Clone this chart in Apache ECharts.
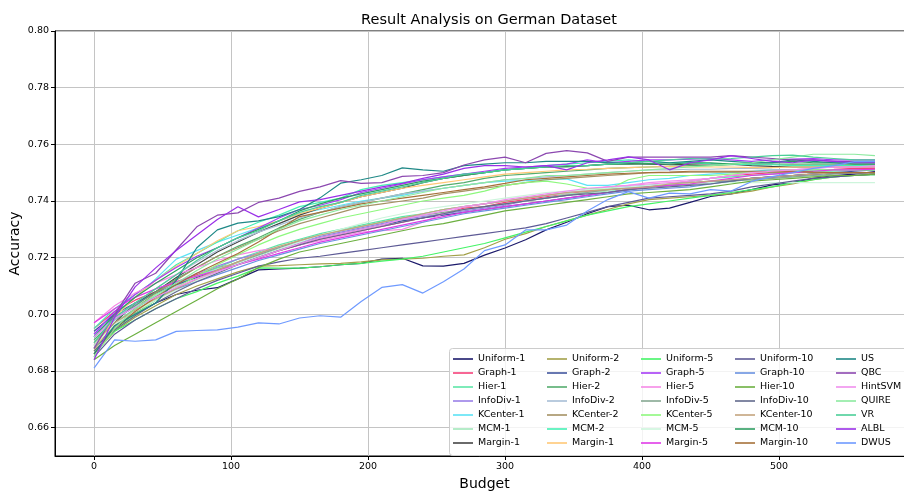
<!DOCTYPE html>
<html>
<head>
<meta charset="utf-8">
<script src="https://cdn.jsdelivr.net/npm/echarts@6/dist/echarts.min.js"></script>
<style>
  html, body { margin: 0; padding: 0; background: #fff; }
  #main { width: 904px; height: 491px; }
</style>
</head>
<body>
<div id="main"></div>
<script type="text/javascript">
// budget steps (x)
var budgets = [0,15,30,45,60,75,90,105,120,135,150,165,180,195,210,225,240,255,270,285,300,315,330,345,360,375,390,405,420,435,450,465,480,495,510,525,540,555,570];

// accuracy per method, one value per budget
var uniform1 = [0.688,0.695,0.700,0.704,0.707,0.7085,0.7094,0.7125,0.7157,0.716,0.7163,0.7168,0.7175,0.718,0.7195,0.7198,0.7171,0.717,0.718,0.7209,0.7234,0.7263,0.7298,0.7325,0.7355,0.738,0.7385,0.7369,0.7375,0.7395,0.7416,0.7425,0.744,0.7457,0.7465,0.748,0.749,0.7495,0.7504];
var graph1   = [0.695,0.701,0.705,0.708,0.7115,0.714,0.7165,0.718,0.720,0.7225,0.7245,0.7265,0.728,0.7295,0.731,0.7325,0.734,0.7355,0.7375,0.738,0.7395,0.7405,0.7415,0.7425,0.7435,0.744,0.7445,0.745,0.746,0.747,0.748,0.749,0.7495,0.750,0.7505,0.751,0.7512,0.7515,0.7515];
var hier1    = [0.690,0.697,0.702,0.7065,0.7105,0.7135,0.7165,0.7195,0.722,0.7245,0.7265,0.7285,0.730,0.7315,0.733,0.7345,0.7355,0.737,0.738,0.739,0.740,0.741,0.742,0.743,0.744,0.7445,0.745,0.7455,0.746,0.747,0.748,0.7485,0.749,0.7495,0.750,0.7505,0.7505,0.751,0.751];
var infoDiv1 = [0.693,0.699,0.7035,0.7075,0.711,0.7145,0.717,0.7195,0.7215,0.7235,0.7255,0.7275,0.729,0.7305,0.732,0.7335,0.7345,0.7355,0.7365,0.7375,0.7385,0.740,0.741,0.742,0.743,0.744,0.745,0.7455,0.746,0.7465,0.747,0.7475,0.748,0.7485,0.749,0.7495,0.7498,0.750,0.750];
var kCenter1 = [0.692,0.700,0.706,0.7125,0.7195,0.7225,0.7255,0.728,0.7305,0.733,0.7355,0.737,0.7385,0.740,0.741,0.742,0.7435,0.7445,0.7455,0.7465,0.747,0.7472,0.7475,0.7478,0.7455,0.7455,0.7465,0.7475,0.748,0.749,0.7495,0.750,0.7505,0.751,0.751,0.751,0.751,0.751,0.751];
var mcm1     = [0.691,0.698,0.703,0.7065,0.710,0.7135,0.716,0.7185,0.721,0.7235,0.726,0.728,0.7295,0.731,0.7325,0.734,0.7355,0.737,0.738,0.739,0.740,0.741,0.742,0.7425,0.743,0.7435,0.744,0.745,0.7455,0.746,0.7465,0.747,0.7475,0.748,0.7485,0.749,0.749,0.749,0.749];
var margin1  = [0.689,0.697,0.704,0.708,0.713,0.7175,0.722,0.7255,0.729,0.732,0.735,0.7375,0.7395,0.7415,0.743,0.7445,0.7465,0.748,0.749,0.750,0.751,0.7515,0.752,0.7522,0.7525,0.753,0.7532,0.753,0.7528,0.753,0.7532,0.753,0.7525,0.7522,0.752,0.752,0.752,0.752,0.752];
var uniform2 = [0.686,0.694,0.699,0.703,0.707,0.710,0.7125,0.715,0.717,0.7172,0.7175,0.7178,0.718,0.7185,0.7192,0.7195,0.7198,0.7205,0.721,0.7235,0.7265,0.7285,0.731,0.733,0.735,0.737,0.739,0.7405,0.741,0.7415,0.742,0.7425,0.7435,0.745,0.746,0.7475,0.7485,0.749,0.7495];
var graph2   = [0.694,0.700,0.704,0.7075,0.7105,0.713,0.7155,0.718,0.7205,0.723,0.725,0.727,0.7285,0.730,0.7315,0.733,0.734,0.735,0.736,0.737,0.738,0.739,0.740,0.741,0.742,0.743,0.744,0.745,0.7455,0.746,0.7465,0.747,0.748,0.7485,0.749,0.7495,0.750,0.7505,0.751];
var hier2    = [0.691,0.698,0.703,0.708,0.7125,0.7165,0.7205,0.724,0.727,0.7305,0.7335,0.736,0.738,0.7395,0.741,0.7425,0.744,0.7455,0.7465,0.748,0.749,0.7495,0.750,0.7505,0.751,0.7515,0.7518,0.752,0.7522,0.7525,0.7525,0.7528,0.753,0.753,0.753,0.753,0.753,0.753,0.753];
var infoDiv2 = [0.690,0.698,0.704,0.709,0.714,0.7185,0.7225,0.726,0.729,0.7315,0.734,0.736,0.738,0.7395,0.741,0.7425,0.7435,0.7445,0.7455,0.7465,0.7475,0.748,0.7485,0.749,0.7495,0.750,0.7505,0.751,0.751,0.7512,0.7512,0.7515,0.7515,0.7512,0.751,0.751,0.751,0.751,0.751];
var kCenter2 = [0.688,0.696,0.702,0.7075,0.712,0.7165,0.7205,0.7235,0.7265,0.7295,0.732,0.734,0.736,0.738,0.739,0.740,0.741,0.7425,0.7435,0.7445,0.7455,0.7465,0.7475,0.748,0.7485,0.749,0.7495,0.750,0.750,0.7502,0.7502,0.7502,0.7502,0.750,0.750,0.750,0.750,0.750,0.750];
var mcm2     = [0.695,0.702,0.707,0.712,0.7175,0.7215,0.7255,0.7295,0.7325,0.735,0.738,0.7395,0.741,0.744,0.7455,0.7465,0.7475,0.7485,0.7495,0.750,0.751,0.7515,0.7525,0.753,0.7535,0.754,0.7545,0.754,0.7535,0.7535,0.7532,0.753,0.7528,0.7528,0.7525,0.7525,0.7525,0.7525,0.7525];
var margin2  = [0.687,0.699,0.706,0.712,0.717,0.7215,0.726,0.7295,0.731,0.733,0.7355,0.7375,0.7395,0.7415,0.743,0.7445,0.7455,0.7465,0.7475,0.7485,0.7495,0.750,0.7505,0.751,0.7512,0.7515,0.7518,0.752,0.7522,0.752,0.752,0.752,0.7518,0.7518,0.752,0.752,0.752,0.752,0.752];
var uniform5 = [0.687,0.694,0.698,0.702,0.7055,0.708,0.711,0.7135,0.7164,0.7163,0.7163,0.7168,0.7175,0.718,0.7188,0.7195,0.7205,0.722,0.7235,0.725,0.727,0.729,0.731,0.733,0.735,0.7365,0.738,0.739,0.740,0.741,0.742,0.743,0.744,0.745,0.7465,0.7475,0.7485,0.749,0.7495];
var graph5   = [0.693,0.701,0.707,0.712,0.7165,0.7205,0.7235,0.727,0.7305,0.734,0.737,0.7385,0.7405,0.743,0.7445,0.746,0.7475,0.7485,0.7495,0.7505,0.7515,0.752,0.7525,0.753,0.7545,0.7535,0.754,0.7545,0.7545,0.7548,0.755,0.7545,0.754,0.7545,0.7548,0.755,0.7545,0.7545,0.7545];
var hier5    = [0.697,0.703,0.7075,0.711,0.714,0.7165,0.719,0.721,0.7225,0.7235,0.7245,0.726,0.7275,0.729,0.7295,0.730,0.7325,0.7355,0.738,0.739,0.740,0.741,0.742,0.743,0.744,0.745,0.7455,0.746,0.7465,0.747,0.748,0.749,0.750,0.7505,0.751,0.7515,0.752,0.752,0.752];
var infoDiv5 = [0.688,0.6955,0.7005,0.705,0.709,0.7125,0.7155,0.7185,0.721,0.7235,0.726,0.728,0.7295,0.731,0.7325,0.734,0.735,0.736,0.737,0.738,0.739,0.740,0.741,0.742,0.743,0.744,0.7445,0.745,0.7455,0.746,0.7465,0.747,0.7475,0.748,0.7485,0.749,0.7495,0.750,0.750];
var kCenter5 = [0.686,0.6945,0.700,0.705,0.7095,0.7135,0.7175,0.721,0.7245,0.7275,0.730,0.732,0.734,0.7355,0.737,0.7385,0.740,0.741,0.742,0.7435,0.7455,0.7465,0.747,0.746,0.7445,0.744,0.7475,0.749,0.749,0.749,0.749,0.7495,0.750,0.7505,0.751,0.751,0.751,0.751,0.751];
var mcm5     = [0.689,0.6965,0.701,0.705,0.7085,0.712,0.715,0.718,0.7205,0.723,0.7255,0.728,0.730,0.732,0.734,0.7355,0.737,0.738,0.739,0.740,0.741,0.742,0.743,0.7435,0.744,0.7445,0.745,0.7455,0.746,0.7462,0.7465,0.7465,0.7465,0.7465,0.7465,0.7465,0.7465,0.7465,0.7465];
var margin5  = [0.697,0.702,0.706,0.709,0.7115,0.7135,0.7155,0.7175,0.7195,0.7215,0.7235,0.7255,0.727,0.7285,0.730,0.7315,0.733,0.7345,0.736,0.737,0.738,0.739,0.740,0.741,0.742,0.743,0.744,0.745,0.7455,0.746,0.747,0.748,0.749,0.7495,0.750,0.7505,0.751,0.751,0.7512];
var uniform10 = [0.685,0.693,0.698,0.702,0.7055,0.709,0.712,0.7145,0.717,0.7185,0.7198,0.7205,0.7215,0.7225,0.7235,0.7245,0.7255,0.7265,0.7275,0.7285,0.7295,0.7305,0.732,0.734,0.736,0.738,0.7395,0.741,0.7415,0.742,0.7425,0.7435,0.745,0.746,0.747,0.748,0.7485,0.749,0.7495];
var graph10  = [0.692,0.6985,0.7025,0.706,0.709,0.7115,0.714,0.7165,0.719,0.721,0.723,0.725,0.7265,0.728,0.7295,0.731,0.7325,0.734,0.7355,0.7365,0.7375,0.7385,0.7395,0.7405,0.7415,0.7425,0.7435,0.744,0.7445,0.745,0.746,0.747,0.748,0.7485,0.749,0.7495,0.750,0.750,0.750];
var hier10   = [0.684,0.689,0.693,0.697,0.701,0.705,0.709,0.7125,0.7165,0.7195,0.722,0.7235,0.725,0.7265,0.728,0.7295,0.731,0.732,0.7335,0.735,0.7365,0.7375,0.7385,0.7395,0.7405,0.7415,0.7425,0.743,0.7435,0.744,0.745,0.746,0.747,0.7475,0.748,0.7485,0.749,0.749,0.7495];
var infoDiv10 = [0.687,0.6945,0.6995,0.704,0.708,0.7115,0.7145,0.7175,0.720,0.7225,0.7245,0.7265,0.728,0.7295,0.731,0.7325,0.734,0.7355,0.737,0.738,0.739,0.740,0.741,0.742,0.7425,0.743,0.744,0.7445,0.745,0.7455,0.746,0.747,0.748,0.7485,0.749,0.7495,0.750,0.750,0.750];
var kCenter10 = [0.690,0.697,0.7015,0.7055,0.709,0.7125,0.7155,0.7185,0.7215,0.724,0.726,0.728,0.7295,0.731,0.7325,0.734,0.7355,0.737,0.738,0.739,0.740,0.741,0.742,0.743,0.7435,0.744,0.7445,0.745,0.746,0.7465,0.747,0.7475,0.748,0.7485,0.749,0.7495,0.750,0.750,0.750];
var mcm10    = [0.692,0.700,0.706,0.711,0.7155,0.720,0.7235,0.727,0.730,0.733,0.7365,0.739,0.741,0.7425,0.744,0.7455,0.747,0.748,0.749,0.750,0.751,0.7515,0.752,0.752,0.7525,0.753,0.753,0.7532,0.753,0.7535,0.7535,0.753,0.7535,0.7535,0.754,0.7535,0.7535,0.753,0.753];
var margin10 = [0.686,0.695,0.701,0.706,0.7105,0.7145,0.718,0.7215,0.7255,0.730,0.7345,0.736,0.7375,0.739,0.740,0.741,0.742,0.743,0.744,0.745,0.7462,0.7475,0.748,0.7485,0.749,0.7495,0.7498,0.750,0.7502,0.7505,0.7505,0.7505,0.7505,0.7505,0.7505,0.7502,0.750,0.750,0.750];
var us       = [0.686,0.696,0.700,0.704,0.712,0.7235,0.7298,0.7322,0.733,0.7345,0.737,0.7411,0.7463,0.7475,0.749,0.7517,0.751,0.7505,0.7525,0.753,0.7535,0.7535,0.754,0.754,0.754,0.7535,0.7535,0.754,0.7535,0.754,0.7545,0.754,0.7535,0.7535,0.7545,0.754,0.7535,0.7535,0.7535];
var qbc      = [0.688,0.700,0.711,0.7145,0.7228,0.7309,0.735,0.7358,0.7395,0.741,0.7434,0.745,0.7472,0.7462,0.7465,0.7487,0.749,0.750,0.7527,0.7545,0.7555,0.7535,0.7568,0.7578,0.757,0.754,0.7555,0.7555,0.7555,0.7555,0.7555,0.756,0.7555,0.755,0.7545,0.7545,0.754,0.754,0.754];
var hintSvm  = [0.692,0.6985,0.7025,0.706,0.7095,0.7125,0.715,0.7175,0.720,0.7225,0.725,0.727,0.7285,0.730,0.7315,0.7335,0.735,0.7365,0.738,0.739,0.7405,0.7415,0.7425,0.7435,0.7445,0.745,0.7455,0.7465,0.747,0.7475,0.748,0.749,0.750,0.7505,0.751,0.7515,0.752,0.752,0.7525];
var quire    = [0.685,0.695,0.702,0.707,0.711,0.7155,0.7195,0.723,0.7265,0.730,0.733,0.735,0.737,0.7385,0.740,0.7415,0.743,0.7445,0.7455,0.7465,0.7475,0.748,0.749,0.749,0.7495,0.750,0.7505,0.751,0.7515,0.752,0.7525,0.753,0.7535,0.7545,0.7555,0.7565,0.7565,0.7565,0.756];
var vr       = [0.690,0.699,0.704,0.709,0.714,0.719,0.7235,0.727,0.7295,0.733,0.736,0.738,0.7395,0.742,0.7435,0.745,0.7465,0.748,0.7495,0.750,0.751,0.7515,0.752,0.7525,0.7525,0.753,0.7535,0.754,0.7545,0.755,0.7548,0.755,0.7555,0.756,0.7562,0.7555,0.755,0.7545,0.7545];
var albl     = [0.684,0.699,0.7097,0.7164,0.7225,0.728,0.7335,0.738,0.7344,0.737,0.7397,0.7405,0.742,0.7435,0.745,0.7462,0.748,0.7495,0.7515,0.7525,0.7525,0.752,0.7525,0.751,0.7535,0.7545,0.7556,0.7545,0.751,0.7535,0.7545,0.756,0.755,0.754,0.7535,0.7545,0.754,0.7535,0.7535];
var dwus     = [0.681,0.691,0.6905,0.691,0.694,0.6943,0.6945,0.6955,0.697,0.6966,0.6987,0.6995,0.699,0.7045,0.7095,0.7105,0.7075,0.7115,0.716,0.7225,0.7245,0.7298,0.7298,0.7315,0.7365,0.7405,0.7433,0.741,0.7428,0.7425,0.744,0.7435,0.7469,0.7486,0.750,0.7515,0.7525,0.7539,0.754];

// legend order (column by column, as in the figure)
var names = ['Uniform-1','Graph-1','Hier-1','InfoDiv-1','KCenter-1','MCM-1','Margin-1',
             'Uniform-2','Graph-2','Hier-2','InfoDiv-2','KCenter-2','MCM-2','Margin-1',
             'Uniform-5','Graph-5','Hier-5','InfoDiv-5','KCenter-5','MCM-5','Margin-5',
             'Uniform-10','Graph-10','Hier-10','InfoDiv-10','KCenter-10','MCM-10','Margin-10',
             'US','QBC','HintSVM','QUIRE','VR','ALBL','DWUS'];
var values = [uniform1,graph1,hier1,infoDiv1,kCenter1,mcm1,margin1,
              uniform2,graph2,hier2,infoDiv2,kCenter2,mcm2,margin2,
              uniform5,graph5,hier5,infoDiv5,kCenter5,mcm5,margin5,
              uniform10,graph10,hier10,infoDiv10,kCenter10,mcm10,margin10,
              us,qbc,hintSvm,quire,vr,albl,dwus];
var colors = ['#1c1a6b','#f5407a','#5de6a8','#9a80e8','#5ce3f5','#a3e8bb','#454545',
              '#a3a04a','#42569e','#55ad6e','#a8bed6','#a59264','#45f0b4','#ffc877',
              '#44f466','#a63cf5','#f58ae6','#86a892','#8ef87e','#cdf5dc','#e03ae8',
              '#5d5a95','#6a92e0','#6cb040','#626a8c','#c4a47e','#2f9e62','#a6713a',
              '#1e8886','#8c48b0','#f090ee','#8deaa0','#4ccf98','#9a30e8','#6f9aff'];

var yTicks = [0.66,0.68,0.70,0.72,0.74,0.76,0.78,0.80];
var xTicks = [0,100,200,300,400,500];

var chart = echarts.init(document.getElementById('main'));
var font = 'DejaVu Sans';

var series = [];
for (var i = 0; i < names.length; i++) {
    var pts = [];
    for (var j = 0; j < budgets.length; j++) {
        pts.push([budgets[j], values[i][j]]);
    }
    series.push({
        name: names[i],
        type: 'line',
        data: pts,
        symbol: 'none',
        color: colors[i],
        lineStyle: { width: 1.2, color: colors[i] },
        z: 2
    });
}

// 5 legend columns of 7 entries
var legends = [];
var colLeft = [453, 547, 641, 735, 836];
for (var c = 0; c < 5; c++) {
    var items = [];
    for (var r = 0; r < 7; r++) {
        var k = c * 7 + r;
        items.push({ name: names[k], itemStyle: { color: colors[k] } });
    }
    legends.push({
        orient: 'vertical',
        left: colLeft[c],
        top: 353,
        padding: 0,
        icon: 'rect',
        itemWidth: 20,
        itemHeight: 1.6,
        itemGap: 2,
        selectedMode: false,
        data: items,
        z: 10,
        textStyle: { fontFamily: font, fontSize: 9.5, color: '#000', lineHeight: 12 }
    });
}

var option = {
    animation: false,
    backgroundColor: '#fff',
    title: {
        text: 'Result Analysis on German Dataset',
        left: 484,
        textAlign: 'center',
        top: 8,
        textStyle: { fontFamily: font, fontSize: 14.5, fontWeight: 'normal', color: '#000' }
    },
    legend: legends,
    graphic: [{
        type: 'rect',
        shape: { x: 449.5, y: 348.5, width: 470, height: 107, r: 3 },
        style: { fill: 'rgba(255,255,255,0.8)', stroke: '#cccccc', lineWidth: 1 },
        z: 9
    }],
    grid: {
        left: 55, right: -10, top: 31, bottom: 35,
        containLabel: false,
        outerBoundsMode: 'none',
        show: true, borderColor: '#000', borderWidth: 1
    },
    xAxis: {
        type: 'value',
        min: -28.5, max: 598.5,
        name: 'Budget',
        nameLocation: 'middle',
        nameGap: 19,
        nameTextStyle: { fontFamily: font, fontSize: 14, color: '#000' },
        axisLine: { onZero: false, lineStyle: { color: '#000', width: 1 } },
        axisTick: { show: true, length: 4, customValues: xTicks, lineStyle: { color: '#000' } },
        axisLabel: { customValues: xTicks, fontFamily: font, fontSize: 9.5, color: '#000', margin: 6 },
        splitLine: { show: true, lineStyle: { color: '#c4c4c4', width: 1 } }
    },
    yAxis: {
        type: 'value',
        min: 0.65, max: 0.80,
        name: 'Accuracy',
        nameLocation: 'middle',
        nameGap: 33,
        nameMoveOverlap: false,
        nameTextStyle: { fontFamily: font, fontSize: 14, color: '#000' },
        axisLine: { show: true, onZero: false, lineStyle: { color: '#000', width: 1 } },
        axisTick: { show: true, length: 4, customValues: yTicks, lineStyle: { color: '#000' } },
        axisLabel: {
            customValues: yTicks, fontFamily: font, fontSize: 9.5, color: '#000', margin: 6,
            formatter: function (v) { return v.toFixed(2); }
        },
        splitLine: { show: true, lineStyle: { color: '#c4c4c4', width: 1 } }
    },
    series: series
};

chart.setOption(option);
</script>
</body>
</html>
